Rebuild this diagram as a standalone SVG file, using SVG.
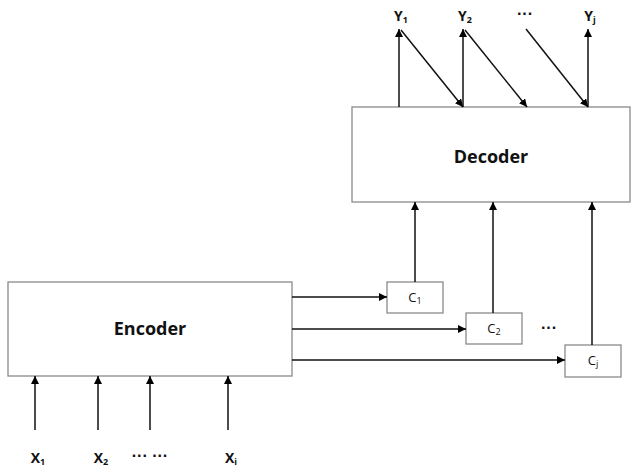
<svg xmlns="http://www.w3.org/2000/svg" width="633" height="468" viewBox="0 0 633 468">
<defs>
<marker id="ah" viewBox="0 0 10 10" refX="10" refY="5" markerWidth="8" markerHeight="8" markerUnits="userSpaceOnUse" orient="auto">
<path d="M0,0 L10,5 L0,10 z" fill="#000"/>
</marker>
</defs>
<style>
.box{fill:#fff;stroke:#8a8a8a;stroke-width:1.3}
.ln{stroke:#111;stroke-width:1.5;fill:none;marker-end:url(#ah)}
.big{font-family:"Open Sans","Liberation Sans",sans-serif;font-weight:bold;font-size:18px;fill:#111;text-anchor:middle}
.lab{font-family:"Open Sans","Liberation Sans",sans-serif;font-weight:bold;font-size:14px;fill:#111;text-anchor:middle}
.dots{font-family:"Liberation Sans",sans-serif;font-weight:bold;font-size:16px;fill:#111;text-anchor:middle}
.c{font-family:"Open Sans","Liberation Sans",sans-serif;font-size:13px;fill:#111;text-anchor:middle}
.sub{font-size:9px}
</style>
<g id="decoder"><rect class="box" x="352" y="107" width="278" height="95"/><text class="big" x="491" y="163">Decoder</text></g>
<g id="encoder"><rect class="box" x="8" y="282" width="284" height="94"/><text class="big" x="150" y="335">Encoder</text></g>
<g id="c1"><rect class="box" x="387" y="282" width="56" height="31"/><text class="c" x="415" y="302">C<tspan class="sub" dy="2">1</tspan></text></g>
<g id="c2"><rect class="box" x="466" y="313" width="56" height="31"/><text class="c" x="494" y="333">C<tspan class="sub" dy="2">2</tspan></text></g>
<g id="cj"><rect class="box" x="565" y="345" width="56" height="32"/><text class="c" x="593" y="365">C<tspan class="sub" dy="2">j</tspan></text></g>
<g id="labels">
<text class="lab" x="401" y="21">Y<tspan class="sub" dy="2">1</tspan></text>
<text class="lab" x="465" y="21">Y<tspan class="sub" dy="2">2</tspan></text>
<text class="dots" x="525" y="19">···</text>
<text class="lab" x="590" y="21">Y<tspan class="sub" dy="2">j</tspan></text>
<text class="dots" x="549" y="333">···</text>
<text class="lab" x="38" y="463">X<tspan class="sub" dy="2">1</tspan></text>
<text class="lab" x="101" y="463">X<tspan class="sub" dy="2">2</tspan></text>
<text class="dots" x="150" y="461">··· ···</text>
<text class="lab" x="231" y="463">X<tspan class="sub" dy="2">i</tspan></text>
</g>
<g id="connectors">
<line class="ln" x1="399" y1="107" x2="399" y2="29"/>
<line class="ln" x1="463" y1="107" x2="463" y2="29"/>
<line class="ln" x1="588" y1="107" x2="588" y2="29"/>
<line class="ln" x1="401" y1="30" x2="463" y2="107"/>
<line class="ln" x1="465" y1="30" x2="527" y2="107"/>
<line class="ln" x1="526" y1="29" x2="588" y2="107"/>
<line class="ln" x1="415" y1="282" x2="415" y2="202"/>
<line class="ln" x1="493" y1="313" x2="493" y2="202"/>
<line class="ln" x1="592" y1="345" x2="592" y2="202"/>
<line class="ln" x1="292" y1="297" x2="387" y2="297"/>
<line class="ln" x1="292" y1="329" x2="466" y2="329"/>
<line class="ln" x1="292" y1="360" x2="565" y2="360"/>
<line class="ln" x1="35" y1="430" x2="35" y2="376"/>
<line class="ln" x1="98" y1="430" x2="98" y2="376"/>
<line class="ln" x1="150" y1="430" x2="150" y2="376"/>
<line class="ln" x1="228" y1="430" x2="228" y2="376"/>
</g>
</svg>
